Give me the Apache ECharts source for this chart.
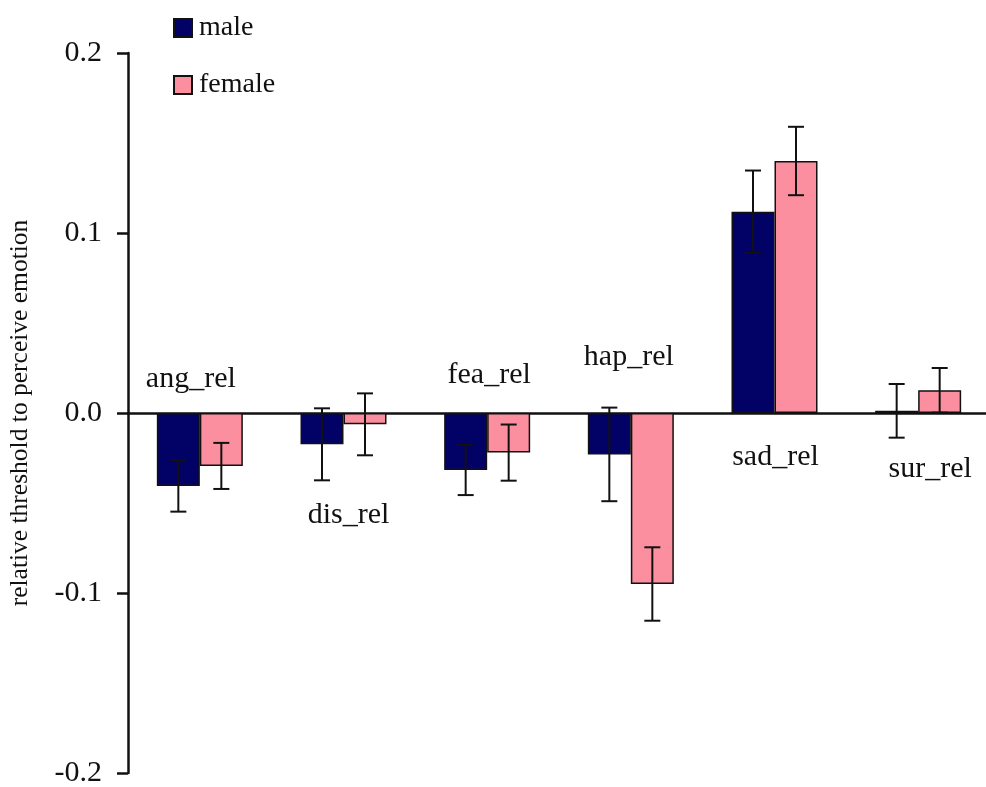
<!DOCTYPE html>
<html>
<head>
<meta charset="utf-8">
<script src="https://cdn.jsdelivr.net/npm/echarts@6/dist/echarts.min.js"></script>
<style>
  html, body { margin: 0; padding: 0; background: #fff; }
  #chart { width: 986px; height: 787px; }
</style>
</head>
<body>
<div id="chart"></div>
<script>
// Emotion categories (relative thresholds)
const categories = ['ang_rel', 'dis_rel', 'fea_rel', 'hap_rel', 'sad_rel', 'sur_rel'];

// Mean relative threshold per group
const maleValues   = [-0.0406, -0.0174, -0.0317, -0.0230, 0.1118, 0.0012];
const femaleValues = [-0.0294, -0.0063, -0.0220, -0.0950, 0.1400, 0.0126];

// Standard error per group
const maleErrors   = [0.0142, 0.0200, 0.0139, 0.0260, 0.0229, 0.0149];
const femaleErrors = [0.0128, 0.0172, 0.0156, 0.0204, 0.0190, 0.0124];

// Y-axis tick values
const yTicks = [-0.2, -0.1, 0.0, 0.1, 0.2];

// Category label placement relative to the zero line (pixels)
const labelDx = [-9, 5, 2, -2, 1, 12];
const labelDy = [-34, 102, -38, -56, 44, 56];

const FONT = "'Liberation Serif', 'Times New Roman', serif";
const BAR_W = 43;

const chart = echarts.init(document.getElementById('chart'), null, { renderer: 'canvas' });

function errorBarSeries(values, errors, shift) {
  return {
    type: 'custom',
    z: 5,
    silent: true,
    data: values.map((v, i) => [i, v, errors[i]]),
    renderItem: function (params, api) {
      const i = api.value(0), v = api.value(1), e = api.value(2);
      const x = api.coord([i, 0])[0] + shift;
      const yHi = api.coord([i, v + e])[1];
      const yLo = api.coord([i, v - e])[1];
      const cap = 8;
      const style = { stroke: '#111', lineWidth: 2 };
      return {
        type: 'group',
        children: [
          { type: 'line', shape: { x1: x, y1: yHi, x2: x, y2: yLo }, style: style },
          { type: 'line', shape: { x1: x - cap, y1: yHi, x2: x + cap, y2: yHi }, style: style },
          { type: 'line', shape: { x1: x - cap, y1: yLo, x2: x + cap, y2: yLo }, style: style }
        ]
      };
    }
  };
}

const option = {
  backgroundColor: '#ffffff',
  animation: false,
  legend: {
    orient: 'vertical',
    left: 168,
    top: 9,
    itemWidth: 18,
    itemHeight: 18,
    itemGap: 29,
    icon: 'rect',
    data: ['male', 'female'],
    textStyle: { fontFamily: FONT, fontSize: 28, color: '#111', padding: [0, 0, 0, 2] }
  },
  grid: { left: 128, top: 53, width: 862, height: 720, containLabel: false, outerBoundsMode: 'none' },
  xAxis: {
    type: 'category',
    data: categories,
    axisLine: { onZero: true, lineStyle: { color: '#111', width: 2.5 } },
    axisTick: { show: false },
    axisLabel: { show: false },
    splitLine: { show: false }
  },
  yAxis: {
    type: 'value',
    min: yTicks[0],
    max: yTicks[yTicks.length - 1],
    interval: 0.1,
    name: 'relative threshold to perceive emotion',
    nameLocation: 'middle',
    nameRotate: 90,
    nameGap: 95,
    nameTextStyle: { fontFamily: FONT, fontSize: 25.5, color: '#111' },
    axisLine: { show: true, lineStyle: { color: '#111', width: 2.5 } },
    axisTick: { show: true, inside: false, length: 11, lineStyle: { color: '#111', width: 2.5 } },
    axisLabel: {
      margin: 26,
      fontFamily: FONT,
      fontSize: 30,
      color: '#111',
      formatter: v => v.toFixed(1)
    },
    splitLine: { show: false }
  },
  series: [
    {
      name: 'male',
      type: 'bar',
      data: maleValues,
      barWidth: BAR_W,
      barGap: '0%',
      itemStyle: { color: '#020266', borderColor: '#111', borderWidth: 1.5 }
    },
    {
      name: 'female',
      type: 'bar',
      data: femaleValues,
      barWidth: BAR_W,
      barGap: '0%',
      itemStyle: { color: '#fb8f9f', borderColor: '#111', borderWidth: 1.5 }
    },
    errorBarSeries(maleValues, maleErrors, -BAR_W / 2),
    errorBarSeries(femaleValues, femaleErrors, BAR_W / 2),
    {
      // Category names drawn beside each pair of bars
      type: 'custom',
      z: 6,
      silent: true,
      data: categories.map((c, i) => [i]),
      renderItem: function (params, api) {
        const i = api.value(0);
        const p = api.coord([i, 0]);
        return {
          type: 'text',
          style: {
            text: categories[i],
            x: p[0] + labelDx[i],
            y: p[1] + labelDy[i],
            textAlign: 'center',
            textVerticalAlign: 'middle',
            font: '30px ' + FONT,
            fill: '#111'
          }
        };
      }
    }
  ]
};

chart.setOption(option);
</script>
</body>
</html>
